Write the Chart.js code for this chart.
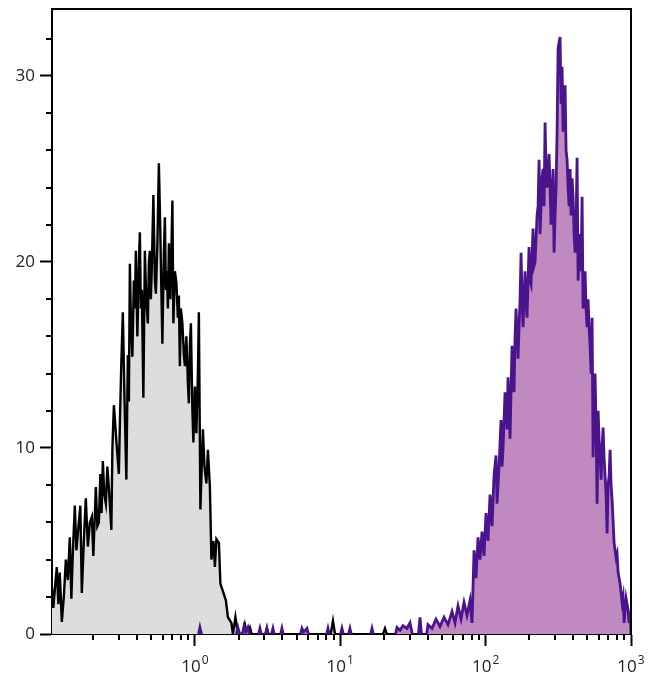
<!DOCTYPE html>
<html lang="en">
<head>
<meta charset="UTF-8">
<title>Flow histogram</title>
<style>
  body { margin: 0; background: #ffffff; }
  #wrap { width: 650px; height: 687px; }
</style>
</head>
<body>
<div id="wrap"><canvas id="histo" width="650" height="687"></canvas></div>
<script src="https://cdn.jsdelivr.net/npm/chart.js"></script>
<script>
// isotype control (grey), y = null breaks the line
const isoX = [
  0.104, 0.1062, 0.1088, 0.1122, 0.1150, 0.1177, 0.1215, 0.1254, 0.1295, 0.1336,
  0.1379, 0.1413, 0.1447, 0.1493, 0.1530, 0.1566, 0.1629, 0.1668, 0.1722, 0.1777,
  0.1835, 0.1894, 0.1955, 0.2002, 0.2083, 0.2133, 0.2185, 0.2237, 0.2280, 0.2327,
  0.2379, 0.2441, 0.2499, 0.2559, 0.2663, 0.2707, 0.2771, 0.2882, 0.2998, 0.3061,
  0.3119, 0.3194, 0.3282, 0.3377, 0.3458, 0.3514, 0.3570, 0.3627, 0.3714, 0.3803,
  0.3864, 0.3925, 0.4020, 0.4117, 0.4183, 0.4249, 0.4317, 0.4421, 0.4527, 0.4637,
  0.4748, 0.4825, 0.4901, 0.4980, 0.5059, 0.5181, 0.5306, 0.5390, 0.5521, 0.5652,
  0.5788, 0.5880, 0.5974, 0.6120, 0.6217, 0.6317, 0.6418, 0.6521, 0.6625, 0.6784,
  0.7002, 0.7113, 0.7284, 0.7459, 0.7636, 0.7759, 0.7884, 0.8009, 0.8202, 0.8401,
  0.8535, 0.8740, 0.8950, 0.9092, 0.9238, 0.9386, 0.9612, 0.9765, 1.000, 1.024,
  1.049, 1.065, 1.091, 1.135, 1.164, 1.200, 1.229, 1.268, 1.299, 1.341,
  1.373, 1.406, 1.463, 1.498, 1.558, 1.634, 1.687, 1.783, 1.826, 1.900,
  1.976, 2.15, 2.209, 2.28, 2.39, 2.46, 2.7, 3.05, 3.13, 3.21,
  5.0, 8.6, 8.91, 9.2, 14, 19.7, 20.3, 20.9
];
const isoY = [
  2.5, 1.4, 2.4, 3.6, 1.6, 3.3, 0.65, 2.0, 4.0, 2.9,
  5.2, 1.9, 4.4, 6.9, 4.5, 5.4, 6.9, 2.2, 5.0, 7.3,
  4.7, 6.0, 6.3, 4.2, 7.9, 5.8, 6.0, 8.6, 6.5, 9.3,
  7.5, 7.0, 9.0, 7.9, 5.6, 10.0, 12.3, 10.4, 8.6, 12.0,
  14.6, 17.3, 12.5, 8.3, 15.0, 12.5, 19.9, 17.0, 14.9, 19.0,
  17.5, 20.6, 16.0, 20.0, 21.6, 17.5, 18.5, 12.7, 20.6, 17.8,
  16.7, 20.0, 20.6, 18.0, 19.8, 23.6, 19.0, 18.3, 21.0, 25.3,
  21.5, 18.5, 15.6, 20.5, 22.4, 18.5, 19.5, 17.5, 21.0, 18.0,
  23.3, 16.7, 19.5, 18.9, 17.0, 18.2, 14.4, 17.5, 16.7, 15.0,
  14.4, 16.0, 13.5, 12.4, 15.5, 16.7, 12.0, 10.3, 13.3, 10.8,
  14.0, 17.3, 6.7, 11.0, 9.0, 8.1, 9.9, 7.9, 4.0, 5.0,
  3.6, 5.1, 4.9, 2.7, 2.3, 1.8, 0.9, 0.6, 0, 0.9,
  0, 0, 0.5, 0, 0.35, 0, null, 0, 0.3, 0,
  null, 0, 0.7, 0, null, 0, 0.3, 0
];

// stained sample (purple)
const stainX = [
  1.06, 1.083, 1.11, 1.5, 1.93, 1.976, 2.03, 2.12, 2.174, 2.24,
  2.317, 2.37, 2.55, 2.74, 2.801, 2.86, 3.0, 3.07, 3.13, 3.19,
  3.3, 3.37, 3.443, 3.51, 3.7, 3.89, 3.97, 4.05, 4.6, 5.33,
  5.45, 5.6, 5.9, 6.03, 7.0, 8.06, 8.23, 8.4, 9.2, 10.05,
  10.27, 10.5, 11.0, 11.4, 11.66, 11.9, 14, 16.2, 16.53, 16.9,
  20, 24.0, 24.56, 25.76, 27.01, 28.77, 30.17, 31.3, 33, 34.5,
  35.36, 36.2, 38, 39.3, 40.14, 42.77, 45.57, 48.56, 51.73, 55.11,
  58.72, 61.57, 64.58, 67.71, 71.02, 74.47, 78.10, 80.62, 83.23, 85.89,
  88.66, 91.52, 94.46, 97.49, 100.6, 103.9, 107.2, 110.7, 114.2, 117.9,
  119.8, 123.7, 127.6, 129.7, 131.8, 136.0, 140.4, 142.6, 144.9, 147.2,
  151.9, 154.4, 156.8, 159.4, 161.9, 167.1, 169.8, 172.5, 175.3, 178.1,
  180.9, 186.7, 189.7, 192.7, 198.9, 202.1, 205.3, 212.0, 215.3, 218.8,
  225.9, 229.5, 233.1, 236.8, 244.5, 248.3, 252.3, 256.4, 260.4, 264.6,
  273.1, 277.5, 281.9, 291.0, 295.6, 300.4, 305.2, 310.1, 315.1, 325.1,
  330.3, 335.6, 341.0, 352.0, 357.6, 363.3, 369.1, 374.9, 381.0, 387.1,
  393.2, 399.5, 405.9, 412.4, 419.0, 425.6, 432.5, 439.3, 446.4, 453.5,
  460.8, 468.1, 475.6, 483.2, 490.9, 498.7, 506.7, 514.8, 523.0, 531.4,
  539.9, 548.6, 557.2, 566.2, 575.3, 584.5, 593.9, 603.3, 612.9, 622.7,
  632.5, 642.7, 653.0, 663.3, 674.1, 684.7, 695.7, 706.9, 718.1, 729.5,
  741.2, 753.1, 765.1, 789.8, 802.4, 815.3, 841.4, 868.4, 882.3, 896.4,
  925.3, 955.0, 970.3, 985.8, 1000
];
const stainY = [
  0, 0.35, 0, null, 0, 0.35, 0, 0, 0.4, 0.1,
  0.35, 0, null, 0, 0.3, 0, null, 0, 0.3, 0,
  null, 0, 0.3, 0, null, 0, 0.3, 0, null, 0,
  0.3, 0.1, 0.3, 0, null, 0, 0.3, 0, null, 0,
  0.3, 0, null, 0, 0.3, 0, null, 0, 0.3, 0,
  null, 0, 0.35, 0.2, 0.45, 0.3, 0.6, 0, null, 0,
  0.9, 0, null, 0, 0.5, 0.3, 0.8, 0.4, 0.9, 0.5,
  1.2, 0.6, 1.5, 0.8, 1.7, 1.0, 1.8, 0.6, 4.5, 3.0,
  5.2, 4.0, 5.5, 4.2, 6.5, 5.0, 7.5, 5.8, 8.5, 9.6,
  7.0, 9.0, 11.5, 9.0, 10.0, 13.0, 11.0, 13.8, 12.5, 10.5,
  15.5, 14.0, 13.0, 16.0, 17.5, 14.8, 16.5, 18.0, 20.5, 18.0,
  16.5, 19.5, 18.0, 17.0, 20.8, 19.0, 18.8, 21.8, 19.8, 20.0,
  22.5, 23.0, 25.5, 21.5, 24.5, 25.0, 23.0, 27.5, 25.0, 24.0,
  25.8, 24.0, 22.0, 25.0, 20.5, 22.5, 24.0, 27.0, 31.5, 32.1,
  28.5, 30.5, 27.0, 29.5, 26.0, 25.5, 24.0, 23.0, 25.0, 22.5,
  24.5, 23.5, 21.5, 20.5, 22.0, 25.6, 19.0, 20.5, 21.5, 19.5,
  23.5, 17.5, 18.0, 19.5, 17.5, 16.5, 18.0, 16.5, 15.5, 14.0,
  17.0, 9.5, 12.5, 14.0, 11.0, 7.0, 12.0, 10.5, 9.5, 8.3,
  10.0, 11.1, 9.5, 8.5, 7.5, 5.4, 8.0, 8.5, 9.9, 8.0,
  7.2, 6.1, 4.9, 4.1, 4.3, 3.3, 2.7, 1.7, 2.0, 0.6,
  1.9, 1.3, 0.6, 1.2, 0
];

// axis ticks
const yMajor = [0, 10, 20, 30];
const yMinor = [2, 4, 6, 8, 12, 14, 16, 18, 22, 24, 26, 28, 32];
const xDecades = [1, 10, 100, 1000];
const xExponents = ['0', '1', '2', '3'];
const xMinor = [0.2, 0.3, 0.4, 0.5, 0.6, 0.7, 0.8, 0.9,
                2, 3, 4, 5, 6, 7, 8, 9,
                20, 30, 40, 50, 60, 70, 80, 90,
                200, 300, 400, 500, 600, 700, 800, 900];

const FONT = '"Open Sans", "DejaVu Sans", sans-serif';

function toPoints(xs, ys) {
  return xs.map((v, i) => ({ x: v, y: ys[i] }));
}

// frame, short minor ticks and 10^n labels
const axisExtras = {
  id: 'axisExtras',
  afterDraw(chart) {
    const ctx = chart.ctx;
    const a = chart.chartArea;
    const xs = chart.scales.x;
    const ys = chart.scales.y;
    ctx.save();
    ctx.strokeStyle = '#000';
    ctx.lineWidth = 2;
    ctx.beginPath();
    ctx.moveTo(a.left, a.top);
    ctx.lineTo(a.right, a.top);
    ctx.lineTo(a.right, a.bottom);
    ctx.stroke();

    ctx.beginPath();
    xMinor.forEach(v => {
      const px = Math.round(xs.getPixelForValue(v));
      ctx.moveTo(px, a.bottom);
      ctx.lineTo(px, a.bottom + 6);
    });
    yMinor.forEach(v => {
      const py = Math.round(ys.getPixelForValue(v));
      ctx.moveTo(a.left - 6, py);
      ctx.lineTo(a.left, py);
    });
    ctx.stroke();

    ctx.fillStyle = '#222';
    ctx.textBaseline = 'alphabetic';
    ctx.textAlign = 'left';
    xDecades.forEach((v, i) => {
      const px = xs.getPixelForValue(v);
      ctx.font = '17px ' + FONT;
      const w1 = ctx.measureText('10').width;
      ctx.font = '12px ' + FONT;
      const w2 = ctx.measureText(xExponents[i]).width;
      const x0 = px - (w1 + w2 + 1) / 2;
      ctx.font = '17px ' + FONT;
      ctx.fillText('10', x0, a.bottom + 38);
      ctx.font = '12px ' + FONT;
      ctx.fillText(xExponents[i], x0 + w1 + 1, a.bottom + 30);
    });
    ctx.restore();
  }
};

new Chart(document.getElementById('histo'), {
  type: 'line',
  data: {
    datasets: [
      {
        label: 'Stained',
        data: toPoints(stainX, stainY),
        borderColor: '#4a148c',
        borderWidth: 2.8,
        backgroundColor: '#c08ac0',
        fill: 'origin',
        pointRadius: 0,
        tension: 0,
        spanGaps: false,
        order: 0
      },
      {
        label: 'Isotype',
        data: toPoints(isoX, isoY),
        borderColor: '#000000',
        borderWidth: 2.4,
        backgroundColor: '#dddddd',
        fill: 'origin',
        pointRadius: 0,
        tension: 0,
        spanGaps: false,
        order: 1
      }
    ]
  },
  options: {
    responsive: false,
    animation: false,
    events: [],
    layout: { padding: { top: 9, right: 19, left: 0, bottom: 0 } },
    plugins: {
      legend: { display: false },
      tooltip: { enabled: false }
    },
    scales: {
      x: {
        type: 'logarithmic',
        min: 0.104,
        max: 1000,
        z: 1,
        afterBuildTicks: s => { s.ticks = xDecades.map(v => ({ value: v })); },
        afterFit: s => { s.height = 53; s.paddingLeft = 0; s.paddingRight = 0; },
        ticks: { display: false, autoSkip: false },
        grid: { drawOnChartArea: false, drawTicks: true, tickLength: 12, tickWidth: 2, tickColor: '#000' },
        border: { display: true, color: '#000', width: 2 }
      },
      y: {
        type: 'linear',
        min: 0,
        max: 33.6,
        z: 1,
        afterBuildTicks: s => { s.ticks = yMajor.map(v => ({ value: v })); },
        afterFit: s => { s.width = 52; s.paddingTop = 0; s.paddingBottom = 0; },
        ticks: {
          autoSkip: false,
          padding: 5,
          color: '#222',
          font: { family: FONT, size: 17 },
          callback: v => String(v)
        },
        grid: { drawOnChartArea: false, drawTicks: true, tickLength: 12, tickWidth: 2, tickColor: '#000' },
        border: { display: true, color: '#000', width: 2 }
      }
    }
  },
  plugins: [axisExtras]
});
</script>
</body>
</html>
